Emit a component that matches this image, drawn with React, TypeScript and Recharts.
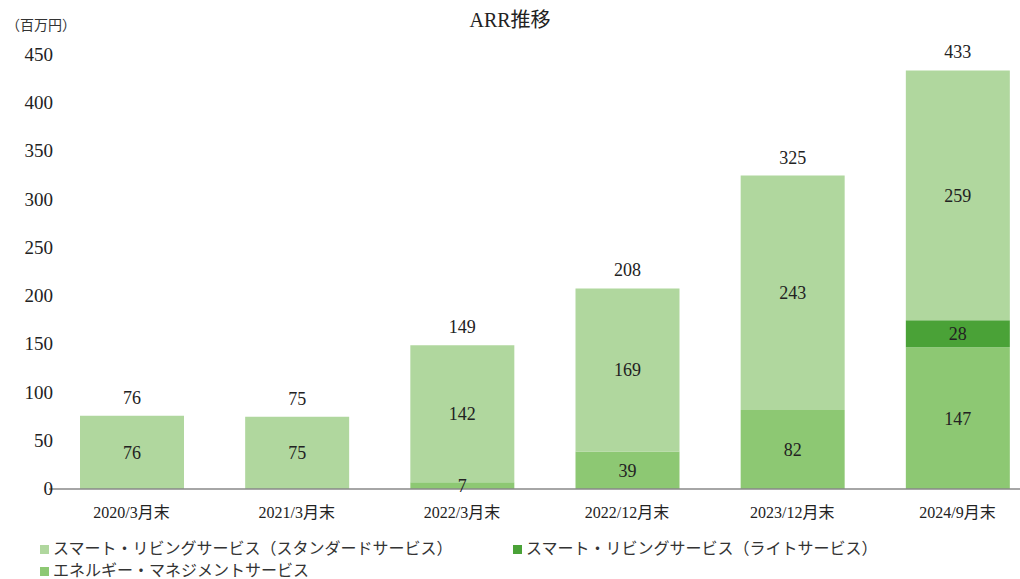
import React from 'react';
import { BarChart, Bar, XAxis, YAxis, LabelList } from 'recharts';

const categories = ['2020/3月末', '2021/3月末', '2022/3月末', '2022/12月末', '2023/12月末', '2024/9月末'];
const energy = [null, null, 7, 39, 82, 147];
const lite = [null, null, null, null, null, 28];
const standard = [76, 75, 142, 169, 243, 259];
const totals = [76, 75, 149, 208, 325, 433];
const yTicks = [0, 50, 100, 150, 200, 250, 300, 350, 400, 450];

const series = [
  { key: 'standard', name: 'スマート・リビングサービス（スタンダードサービス）', color: '#b0d79e' },
  { key: 'lite', name: 'スマート・リビングサービス（ライトサービス）', color: '#4aa237' },
  { key: 'energy', name: 'エネルギー・マネジメントサービス', color: '#8dc873' },
];

const data = categories.map((c, i) => ({
  name: c,
  energy: energy[i],
  lite: lite[i],
  standard: standard[i],
  total: totals[i],
}));

const FONT = '"Liberation Serif", "DejaVu Serif", "Noto Sans CJK JP", serif';

const YTick = (props: any) => {
  const { y, payload } = props;
  return (
    <text x={53} y={y} dy={6} textAnchor="end" fontSize={19} fill="#222" fontFamily={FONT}>
      {payload.value}
    </text>
  );
};

const App: React.FC = () => {
  return (
    <div style={{ position: 'fixed', left: 0, top: 0, width: 1020, height: 579, overflow: 'hidden', background: '#fff', fontFamily: FONT }}>
      <div style={{ position: 'absolute', left: 0, top: 4, width: 1020, textAlign: 'center', fontSize: 20, color: '#222' }}>ARR推移</div>
      <div style={{ position: 'absolute', left: 6, top: 14, fontSize: 14, color: '#333' }}>（百万円）</div>
      <div style={{ position: 'absolute', left: 0, top: 0 }}>
        <BarChart
          width={1040}
          height={530}
          data={data}
          margin={{ top: 55, right: 0, bottom: 0, left: 0 }}
          barSize={104}
        >
          <XAxis
            dataKey="name"
            axisLine={{ stroke: '#888', strokeWidth: 1.5 }}
            tickLine={false}
            height={41}
            tick={{ fontSize: 16, fill: '#222', fontFamily: FONT }}
            tickMargin={12}
          />
          <YAxis
            domain={[0, 450]}
            ticks={yTicks}
            width={49}
            axisLine={false}
            tickLine={false}
            tick={<YTick />}
            interval={0}
          />
          <Bar dataKey="energy" stackId="a" fill="#8dc873" isAnimationActive={false}>
            <LabelList dataKey="energy" position="center" fill="#222" fontSize={18} fontFamily={FONT} />
          </Bar>
          <Bar dataKey="lite" stackId="a" fill="#4aa237" isAnimationActive={false}>
            <LabelList dataKey="lite" position="center" fill="#222" fontSize={18} fontFamily={FONT} />
          </Bar>
          <Bar dataKey="standard" stackId="a" fill="#b0d79e" isAnimationActive={false}>
            <LabelList dataKey="standard" position="center" fill="#222" fontSize={18} fontFamily={FONT} />
            <LabelList dataKey="total" position="top" offset={12} fill="#222" fontSize={18} fontFamily={FONT} />
          </Bar>
        </BarChart>
      </div>
      <div style={{ position: 'absolute', left: 40, top: 538, fontSize: 16, color: '#333', lineHeight: '22px' }}>
        {[series[0], series[1]].map((s, i) => (
          <span key={s.key} style={{ position: 'absolute', left: i === 0 ? 0 : 473, top: 0, whiteSpace: 'nowrap' }}>
            <span style={{ display: 'inline-block', width: 9, height: 9, background: s.color, marginRight: 4 }} />
            {s.name}
          </span>
        ))}
        <span style={{ position: 'absolute', left: 0, top: 22, whiteSpace: 'nowrap' }}>
          <span style={{ display: 'inline-block', width: 9, height: 9, background: series[2].color, marginRight: 4 }} />
          {series[2].name}
        </span>
      </div>
    </div>
  );
};

export default App;
